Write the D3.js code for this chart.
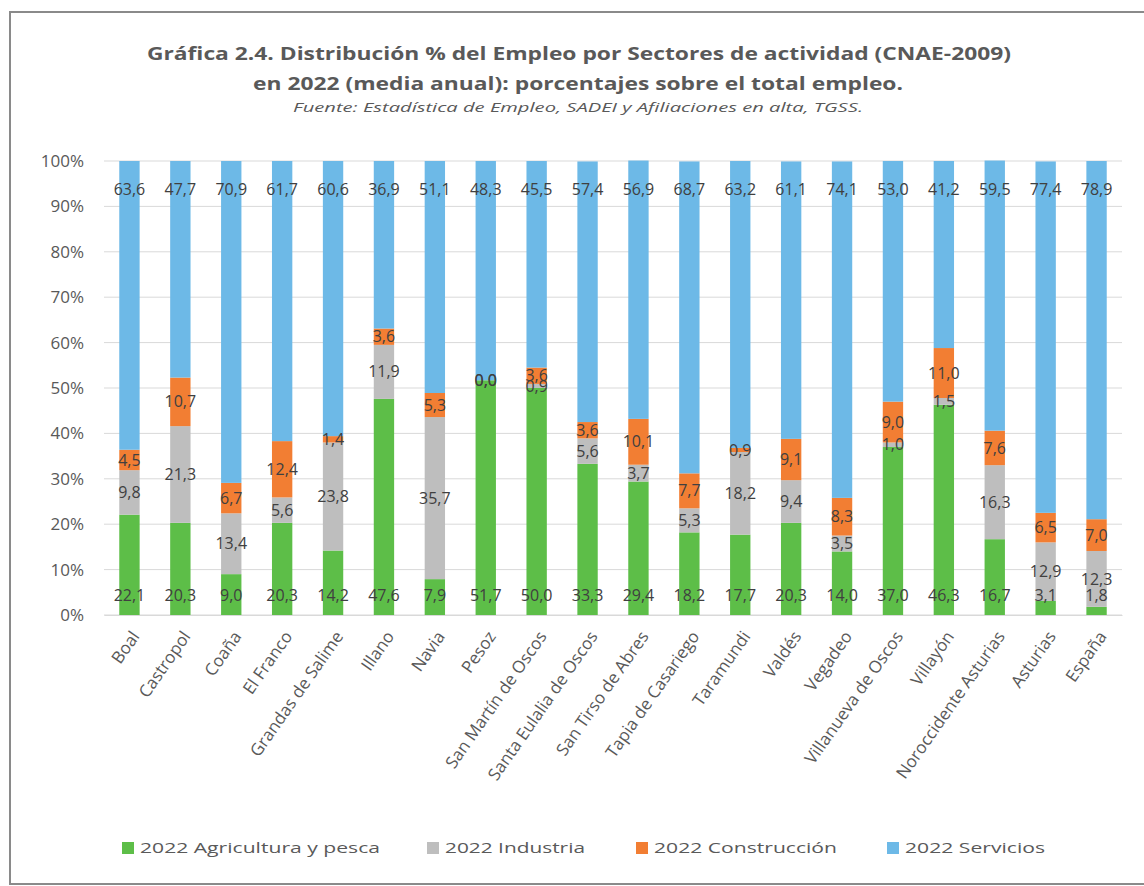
<!DOCTYPE html>
<html>
<head>
<meta charset="utf-8">
<script src="https://cdn.jsdelivr.net/npm/d3@7"></script>
<style>
  html, body { margin: 0; padding: 0; background: #fff; }
  svg { display: block; }
  text { font-family: "Open Sans", "DejaVu Sans", sans-serif; }
</style>
</head>
<body>
<svg id="chart" width="1144" height="886"></svg>
<script>
// ---- Data ----
const categories = ["Boal", "Castropol", "Coaña", "El Franco", "Grandas de Salime", "Illano", "Navia", "Pesoz",
  "San Martín de Oscos", "Santa Eulalia de Oscos", "San Tirso de Abres", "Tapia de Casariego", "Taramundi",
  "Valdés", "Vegadeo", "Villanueva de Oscos", "Villayón", "Noroccidente Asturias", "Asturias", "España"];
const agricultura = [22.1, 20.3, 9.0, 20.3, 14.2, 47.6, 7.9, 51.7, 50.0, 33.3, 29.4, 18.2, 17.7, 20.3, 14.0, 37.0, 46.3, 16.7, 3.1, 1.8];
const industria   = [9.8, 21.3, 13.4, 5.6, 23.8, 11.9, 35.7, 0.0, 0.9, 5.6, 3.7, 5.3, 18.2, 9.4, 3.5, 1.0, 1.5, 16.3, 12.9, 12.3];
const construccion= [4.5, 10.7, 6.7, 12.4, 1.4, 3.6, 5.3, 0.0, 3.6, 3.6, 10.1, 7.7, 0.9, 9.1, 8.3, 9.0, 11.0, 7.6, 6.5, 7.0];
const servicios   = [63.6, 47.7, 70.9, 61.7, 60.6, 36.9, 51.1, 48.3, 45.5, 57.4, 56.9, 68.7, 63.2, 61.1, 74.1, 53.0, 41.2, 59.5, 77.4, 78.9];
const seriesNames = ["2022 Agricultura y pesca", "2022 Industria", "2022 Construcción", "2022 Servicios"];
const yTicks = [0, 10, 20, 30, 40, 50, 60, 70, 80, 90, 100];
const titleLines = ["Gráfica 2.4. Distribución % del Empleo por Sectores de actividad (CNAE-2009)",
  "en 2022 (media anual): porcentajes sobre el total empleo."];
const sourceText = "Fuente: Estadística de Empleo, SADEI y Afiliaciones en alta, TGSS.";

// ---- Setup ----
const colors = ["#5DBE48", "#BEBEBE", "#F27E33", "#6DB9E7"];
const keys = ["agr", "ind", "con", "ser"];
const rows = categories.map((c, i) => ({cat: c, agr: agricultura[i], ind: industria[i], con: construccion[i], ser: servicios[i]}));
const stacked = d3.stack().keys(keys)(rows);

const svg = d3.select("#chart");
const fmt = v => d3.format(".1f")(v).replace(".", ",");

// frame
svg.append("rect").attr("x", 10).attr("y", 12).attr("width", 1150).attr("height", 872)
  .attr("fill", "#fff").attr("stroke", "#8a8a8a").attr("stroke-width", 2);

// titles
svg.append("text").attr("x", 579).attr("y", 60).attr("text-anchor", "middle")
  .attr("font-size", 17).attr("font-weight", "bold").attr("fill", "#595959")
  .attr("textLength", 864).attr("lengthAdjust", "spacingAndGlyphs").text(titleLines[0]);
svg.append("text").attr("x", 578).attr("y", 90).attr("text-anchor", "middle")
  .attr("font-size", 17).attr("font-weight", "bold").attr("fill", "#595959")
  .attr("textLength", 650).attr("lengthAdjust", "spacingAndGlyphs").text(titleLines[1]);
svg.append("text").attr("x", 578).attr("y", 112).attr("text-anchor", "middle")
  .attr("font-size", 12).attr("font-style", "italic").attr("fill", "#595959")
  .attr("textLength", 570).attr("lengthAdjust", "spacingAndGlyphs").text(sourceText);

// scales
const x = d3.scaleBand().domain(categories).range([104, 1122]).paddingInner(0.6).paddingOuter(0.3);
const y = d3.scaleLinear().domain([0, 100]).range([615, 161]);

// gridlines
svg.append("g").selectAll("line").data(yTicks).join("line")
  .attr("x1", 104).attr("x2", 1122)
  .attr("y1", d => y(d)).attr("y2", d => y(d))
  .attr("stroke", "#D9D9D9").attr("stroke-width", 1);

// y axis labels
const yAxis = svg.append("g").attr("transform", "translate(84,0)")
  .call(d3.axisLeft(y).tickValues(yTicks).tickSize(0).tickPadding(0).tickFormat(d => d + "%"));
yAxis.select(".domain").remove();
yAxis.selectAll("text").attr("font-size", 17).attr("fill", "#595959")
  .attr("font-family", "'Open Sans', sans-serif");

// bars
svg.append("g").selectAll("g").data(stacked).join("g")
  .attr("fill", (d, i) => colors[i])
  .selectAll("rect").data(d => d).join("rect")
  .attr("x", d => x(d.data.cat))
  .attr("width", x.bandwidth())
  .attr("y", d => y(d[1]))
  .attr("height", d => y(d[0]) - y(d[1]));

// x axis labels
const xAxis = svg.append("g").attr("transform", "translate(0,615)")
  .call(d3.axisBottom(x).tickSize(0).tickPadding(0));
xAxis.select(".domain").attr("stroke", "#D9D9D9");
xAxis.selectAll("text")
  .attr("font-size", 17).attr("fill", "#595959")
  .attr("font-family", "'Open Sans', sans-serif")
  .attr("text-anchor", "end")
  .attr("dy", "0.35em")
  .attr("transform", "translate(6,18) rotate(-55)");

// data labels
const lbl = svg.append("g").attr("font-size", 16).attr("fill", "#404040").attr("text-anchor", "middle");
stacked.forEach((s, si) => {
  lbl.append("g").selectAll("text").data(s).join("text")
    .attr("x", d => x(d.data.cat) + x.bandwidth() / 2)
    .attr("y", d => {
      if (si === 0) return y(0) - 20;
      if (si === 3) return y(100) + 28;
      return (y(d[0]) + y(d[1])) / 2;
    })
    .attr("dy", "0.35em")
    .text(d => fmt(d[1] - d[0]));
});

// legend
const legend = svg.append("g").attr("transform", "translate(0,848)");
const legendX = [122, 427, 636, 887];
const legendW = [240, 140, 183, 140];
seriesNames.forEach((name, i) => {
  legend.append("rect").attr("x", legendX[i]).attr("y", -6).attr("width", 12).attr("height", 12).attr("fill", colors[i]);
  legend.append("text").attr("x", legendX[i] + 18).attr("y", 0).attr("dy", "0.35em")
    .attr("font-size", 15).attr("fill", "#595959")
    .attr("textLength", legendW[i]).attr("lengthAdjust", "spacingAndGlyphs").text(name);
});
</script>
</body>
</html>
